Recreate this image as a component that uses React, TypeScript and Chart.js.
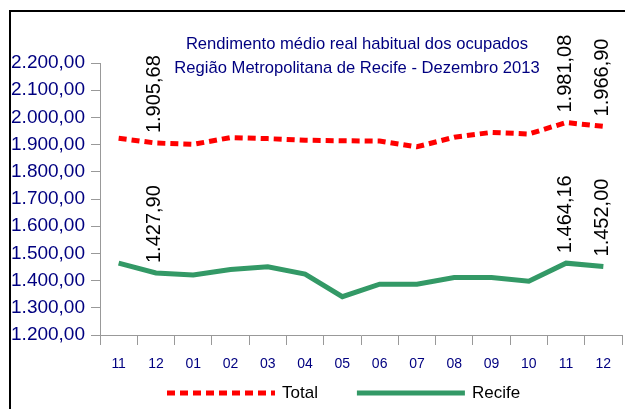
import React, { useEffect, useRef } from 'react';
import { Chart, registerables } from 'chart.js';

Chart.register(...registerables);

const categories = ['11', '12', '01', '02', '03', '04', '05', '06', '07', '08', '09', '10', '11', '12'];
const totalValues = [1923, 1905.68, 1901, 1926, 1922, 1916, 1914, 1913, 1892, 1927, 1945, 1939, 1981.08, 1966.9];
const recifeValues = [1464, 1427.9, 1421, 1441, 1451, 1424, 1341, 1387, 1387, 1411, 1411, 1398, 1464.16, 1452.0];
const labeledIndices = [1, 12, 13];
const seriesNames = ['Total', 'Recife'];
const titleLines = [
  'Rendimento médio real habitual dos ocupados',
  'Região Metropolitana de Recife - Dezembro 2013',
];
const yMin = 1200;
const yMax = 2200;
const yStep = 100;

const FONT = '"Liberation Sans", Arial, sans-serif';
const NAVY = '#000080';

function fmt(v: number): string {
  const [i, d] = v.toFixed(2).split('.');
  const int = i.replace(/\B(?=(\d{3})+(?!\d))/g, '.');
  return int + ',' + d;
}

const titlePlugin = {
  id: 'customTitle',
  afterDraw(chart: any) {
    const ctx = chart.ctx;
    ctx.save();
    ctx.font = `16.6px ${FONT}`;
    ctx.fillStyle = NAVY;
    ctx.textAlign = 'center';
    ctx.textBaseline = 'middle';
    const cx = chart.chartArea.left + 257;
    ctx.fillText(titleLines[0], cx, 44);
    ctx.fillText(titleLines[1], cx, 68);
    ctx.restore();
  },
};

const dataLabelPlugin = {
  id: 'rotLabels',
  afterDatasetsDraw(chart: any) {
    const ctx = chart.ctx;
    ctx.save();
    ctx.font = `20px ${FONT}`;
    ctx.fillStyle = '#000000';
    ctx.textAlign = 'left';
    ctx.textBaseline = 'middle';
    chart.data.datasets.forEach((ds: any, di: number) => {
      const meta = chart.getDatasetMeta(di);
      labeledIndices.forEach((i) => {
        const pt = meta.data[i];
        if (!pt) return;
        ctx.save();
        ctx.translate(pt.x - 1, pt.y - 10);
        ctx.rotate(-Math.PI / 2);
        ctx.fillText(fmt(ds.data[i]), 0, 0);
        ctx.restore();
      });
    });
    ctx.restore();
  },
};

const legendPlugin = {
  id: 'customLegend',
  afterDraw(chart: any) {
    const ctx = chart.ctx;
    const y = 393;
    const lineLen = 108;
    const gapText = 7;
    const gapItems = 39;
    let x = chart.chartArea.left + 67;
    ctx.save();
    ctx.font = `17px ${FONT}`;
    chart.data.datasets.forEach((ds: any) => {
      ctx.save();
      ctx.strokeStyle = ds.borderColor;
      ctx.lineWidth = ds.borderWidth;
      ctx.setLineDash(ds.borderDash || []);
      ctx.lineCap = 'butt';
      ctx.beginPath();
      ctx.moveTo(x, y);
      ctx.lineTo(x + lineLen, y);
      ctx.stroke();
      ctx.restore();
      x += lineLen + gapText;
      ctx.fillStyle = '#000000';
      ctx.textAlign = 'left';
      ctx.textBaseline = 'middle';
      ctx.fillText(ds.label, x, y);
      x += ctx.measureText(ds.label).width + gapItems;
    });
    ctx.restore();
  },
};

export default function App() {
  const ref = useRef<HTMLCanvasElement | null>(null);

  useEffect(() => {
    if (!ref.current) return;
    const chart = new Chart(ref.current, {
      type: 'line',
      data: {
        labels: categories,
        datasets: [
          {
            label: seriesNames[0],
            data: totalValues,
            borderColor: '#FF0000',
            backgroundColor: '#FF0000',
            borderWidth: 5,
            borderDash: [8, 5],
            borderCapStyle: 'butt',
            pointRadius: 0,
            tension: 0,
            fill: false,
          },
          {
            label: seriesNames[1],
            data: recifeValues,
            borderColor: '#339966',
            backgroundColor: '#339966',
            borderWidth: 5,
            pointRadius: 0,
            tension: 0,
            fill: false,
          },
        ],
      },
      options: {
        animation: false,
        responsive: false,
        layout: { padding: { top: 63, right: 3, bottom: 34, left: 0 } },
        plugins: {
          legend: { display: false },
          title: { display: false },
          tooltip: { enabled: false },
        },
        scales: {
          x: {
            type: 'category',
            offset: true,
            afterFit: (s: any) => {
              s.height = 40;
            },
            grid: {
              display: true,
              drawOnChartArea: false,
              offset: true,
              tickLength: 10,
              color: '#999999',
            },
            border: { display: true, color: '#999999', width: 1 },
            ticks: {
              color: NAVY,
              font: { family: FONT, size: 14 },
              padding: 11,
              maxRotation: 0,
              autoSkip: false,
            },
          },
          y: {
            min: yMin,
            max: yMax,
            afterFit: (s: any) => {
              s.width = 100;
            },
            grid: {
              display: true,
              drawOnChartArea: false,
              tickLength: 9,
              color: '#999999',
            },
            border: { display: true, color: '#999999', width: 1 },
            ticks: {
              stepSize: yStep,
              color: NAVY,
              font: { family: FONT, size: 19 },
              padding: 6,
              callback: (v: any) => fmt(Number(v)),
            },
          },
        },
      },
      plugins: [titlePlugin, dataLabelPlugin, legendPlugin],
    } as any);
    return () => chart.destroy();
  }, []);

  return (
    <div style={{ position: 'fixed', left: 0, top: 0, width: 625, height: 409, background: '#ffffff' }}>
      <div
        style={{
          position: 'absolute',
          left: 9,
          top: 10,
          right: 0,
          bottom: 0,
          borderTop: '2px solid #000',
          borderLeft: '2px solid #000',
        }}
      />
      <canvas ref={ref} width={625} height={409} style={{ position: 'absolute', left: 0, top: 0 }} />
    </div>
  );
}
